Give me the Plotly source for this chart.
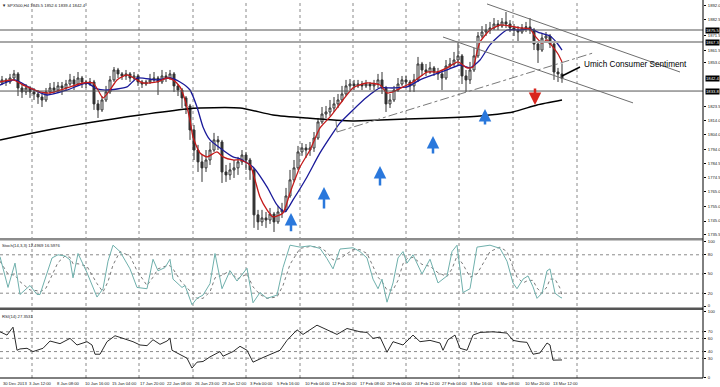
import plotly.graph_objects as go

# ---------------- price data (H4 bars, bar index 0 = first visible bar) ----------------
bar_idx = list(range(141))
opens = [1839.3, 1841.4, 1840.0, 1842.7, 1845.5, 1835.9, 1833.2, 1835.9, 1833.2, 1831.8,
         1829.7, 1827.7, 1833.2, 1835.9, 1834.5, 1837.3, 1835.9, 1838.6, 1841.4, 1838.6,
         1842.7, 1840.0, 1838.6, 1840.0, 1825.0, 1820.9, 1827.7, 1833.2, 1841.4, 1848.2,
         1845.5, 1844.1, 1845.5, 1842.7, 1844.1, 1840.0, 1838.6, 1840.0, 1841.4, 1842.7,
         1840.0, 1844.1, 1842.7, 1845.5, 1837.3, 1834.5, 1829.1, 1823.6, 1807.2, 1793.5,
         1785.4, 1781.3, 1786.7, 1793.5, 1800.4, 1799.0, 1778.5, 1776.5, 1779.9, 1781.3,
         1785.4, 1790.1, 1786.7, 1779.9, 1749.2, 1744.4, 1747.1, 1745.7, 1749.8, 1744.4,
         1751.2, 1752.6, 1762.1, 1773.1, 1781.3, 1792.2, 1794.9, 1793.5, 1794.9, 1801.7,
         1812.7, 1818.1, 1819.5, 1822.2, 1825.0, 1827.7, 1831.8, 1837.3, 1838.6, 1837.3,
         1838.6, 1837.3, 1838.6, 1837.3, 1838.6, 1841.4, 1835.9, 1825.0, 1827.7, 1834.5,
         1838.6, 1841.4, 1840.0, 1837.3, 1841.4, 1852.3, 1848.2, 1846.8, 1849.6, 1846.8,
         1845.5, 1842.7, 1850.9, 1852.3, 1855.0, 1857.8, 1844.1, 1841.4, 1848.2, 1857.8,
         1871.4, 1874.1, 1875.5, 1876.9, 1879.6, 1878.2, 1881.0, 1879.6, 1876.9, 1875.5,
         1874.1, 1876.9, 1877.6, 1875.5, 1865.9, 1861.8, 1870.0, 1871.4, 1865.9, 1846.8,
         1845.5]
highs = [1844.1, 1842.7, 1845.5, 1848.2, 1846.8, 1838.6, 1838.6, 1837.3, 1835.9, 1834.5,
         1831.8, 1835.9, 1839.3, 1840.0, 1840.0, 1840.0, 1841.4, 1845.5, 1844.1, 1846.8,
         1844.1, 1841.4, 1842.7, 1841.4, 1827.7, 1830.4, 1837.3, 1844.1, 1850.2, 1849.6,
         1846.8, 1848.2, 1846.8, 1846.8, 1845.5, 1841.4, 1841.4, 1845.5, 1846.8, 1844.1,
         1848.2, 1846.8, 1848.2, 1846.8, 1838.6, 1835.9, 1830.4, 1825.0, 1810.6, 1797.0,
         1790.1, 1793.5, 1799.0, 1805.2, 1803.1, 1800.4, 1783.3, 1784.7, 1786.7, 1788.8,
         1793.5, 1792.2, 1788.1, 1781.3, 1752.6, 1752.6, 1751.2, 1753.9, 1751.2, 1755.3,
         1757.4, 1767.6, 1779.9, 1786.7, 1796.3, 1798.3, 1797.6, 1799.0, 1805.8, 1815.4,
         1822.9, 1823.6, 1827.7, 1829.7, 1831.8, 1837.3, 1841.4, 1842.0, 1841.4, 1841.4,
         1840.7, 1841.4, 1840.0, 1841.4, 1845.5, 1846.8, 1837.3, 1831.8, 1837.3, 1842.7,
         1844.1, 1844.1, 1841.4, 1845.5, 1857.1, 1853.7, 1852.3, 1853.7, 1850.9, 1849.6,
         1848.2, 1855.0, 1856.4, 1860.5, 1866.6, 1859.1, 1848.2, 1853.7, 1863.2, 1874.1,
         1878.2, 1879.6, 1881.0, 1883.7, 1882.3, 1883.7, 1887.8, 1882.3, 1879.6, 1878.2,
         1879.6, 1881.0, 1883.7, 1876.9, 1867.3, 1873.5, 1874.1, 1872.8, 1867.3, 1849.6,
         1852.6]
lows = [1837.9, 1837.3, 1838.6, 1841.4, 1830.4, 1829.1, 1831.1, 1829.1, 1827.7, 1825.0,
        1822.9, 1826.3, 1831.8, 1831.8, 1833.2, 1831.1, 1834.5, 1837.3, 1834.5, 1837.3,
        1835.9, 1835.9, 1837.3, 1820.9, 1815.4, 1819.5, 1826.3, 1831.8, 1840.0, 1842.7,
        1841.4, 1841.4, 1840.0, 1841.4, 1837.3, 1835.9, 1837.3, 1838.6, 1840.0, 1831.1,
        1838.6, 1840.0, 1841.4, 1833.2, 1830.4, 1822.2, 1818.1, 1800.4, 1786.7, 1778.5,
        1771.7, 1778.5, 1783.3, 1792.2, 1793.5, 1771.0, 1771.7, 1773.1, 1774.4, 1776.5,
        1783.3, 1779.9, 1773.1, 1740.3, 1738.9, 1741.6, 1740.3, 1743.0, 1737.5, 1743.0,
        1747.1, 1751.2, 1760.8, 1771.7, 1779.9, 1789.5, 1788.1, 1789.5, 1792.2, 1800.4,
        1811.3, 1815.4, 1816.8, 1819.5, 1822.2, 1826.3, 1830.4, 1834.5, 1834.5, 1835.9,
        1834.5, 1835.9, 1834.5, 1834.5, 1835.9, 1831.8, 1819.5, 1822.2, 1826.3, 1833.2,
        1837.3, 1835.9, 1833.2, 1833.2, 1840.0, 1844.1, 1844.1, 1845.5, 1844.1, 1841.4,
        1834.5, 1841.4, 1849.6, 1850.9, 1850.9, 1838.6, 1833.2, 1838.6, 1846.8, 1856.4,
        1870.0, 1871.4, 1872.8, 1875.5, 1875.5, 1876.9, 1876.9, 1874.1, 1871.4, 1866.6,
        1872.8, 1874.1, 1872.8, 1861.8, 1853.0, 1860.5, 1867.3, 1863.2, 1841.4, 1840.0,
        1839.4]
closes = [1841.4, 1840.0, 1842.7, 1845.5, 1835.9, 1833.2, 1835.9, 1833.2, 1831.8, 1829.7,
          1827.7, 1833.2, 1835.9, 1834.5, 1837.3, 1835.9, 1838.6, 1841.4, 1838.6, 1842.7,
          1840.0, 1838.6, 1840.0, 1825.0, 1820.9, 1827.7, 1833.2, 1841.4, 1848.2, 1845.5,
          1844.1, 1845.5, 1842.7, 1844.1, 1840.0, 1838.6, 1840.0, 1841.4, 1842.7, 1840.0,
          1844.1, 1842.7, 1845.5, 1837.3, 1834.5, 1829.1, 1823.6, 1807.2, 1793.5, 1785.4,
          1781.3, 1786.7, 1793.5, 1800.4, 1799.0, 1778.5, 1776.5, 1779.9, 1781.3, 1785.4,
          1790.1, 1786.7, 1779.9, 1749.2, 1744.4, 1747.1, 1745.7, 1749.8, 1744.4, 1751.2,
          1752.6, 1762.1, 1773.1, 1781.3, 1792.2, 1794.9, 1793.5, 1794.9, 1801.7, 1812.7,
          1818.1, 1819.5, 1822.2, 1825.0, 1827.7, 1831.8, 1837.3, 1838.6, 1837.3, 1838.6,
          1837.3, 1838.6, 1837.3, 1838.6, 1841.4, 1835.9, 1825.0, 1827.7, 1834.5, 1838.6,
          1841.4, 1840.0, 1837.3, 1841.4, 1852.3, 1848.2, 1846.8, 1849.6, 1846.8, 1845.5,
          1842.7, 1850.9, 1852.3, 1855.0, 1857.8, 1844.1, 1841.4, 1848.2, 1857.8, 1871.4,
          1874.1, 1875.5, 1876.9, 1879.6, 1878.2, 1881.0, 1879.6, 1876.9, 1875.5, 1874.1,
          1876.9, 1877.6, 1875.5, 1865.9, 1861.8, 1870.0, 1871.4, 1865.9, 1846.8, 1845.5,
          1842.4]

# ---------------- moving averages ----------------
red_x = [-0.5, 2.75, 5.75, 9.5, 12, 16.25, 20.25, 22.75, 24, 25.25,
         27, 28.75, 31.25, 33.75, 35.25, 38.75, 41.25, 42.75, 44.5, 45.75,
         47, 47.75, 49.5, 51.25, 53.75, 55.25, 57.75, 59.5, 62, 63.25,
         64.5, 66.25, 67.75, 70.25, 72, 74.5, 77, 79.5, 82, 85.25,
         87.75, 91.25, 94.5, 96.25, 97.75, 100.25, 102.75, 106.25, 108.75, 111.25,
         114, 116.25, 117.75, 118.75, 119.5, 122, 124.5, 127, 129.5, 132,
         133.25, 135, 136.25, 137.5, 139, 140]
red_ma = [1840.0, 1841.4, 1837.3, 1833.2, 1832.5, 1835.9, 1839.3, 1839.3, 1834.5, 1829.1,
          1834.5, 1841.4, 1844.8, 1841.4, 1839.3, 1840.0, 1842.7, 1841.4, 1836.6, 1827.7,
          1814.0, 1802.4, 1791.5, 1788.8, 1792.2, 1788.8, 1786.7, 1786.7, 1783.3, 1773.1,
          1761.4, 1752.6, 1747.8, 1750.5, 1764.2, 1781.9, 1793.5, 1808.6, 1816.1, 1827.7,
          1835.9, 1839.3, 1837.9, 1832.5, 1833.2, 1836.6, 1840.0, 1846.8, 1846.8, 1849.6,
          1853.7, 1849.6, 1850.2, 1860.5, 1867.3, 1875.5, 1878.9, 1878.2, 1876.9, 1876.2,
          1871.4, 1866.6, 1868.7, 1864.6, 1859.1, 1853.7]
blue_x = [-0.5, 3.25, 7, 11.25, 16.25, 21.25, 23.75, 26.25, 31.25, 33.75,
          38.75, 42, 44.5, 47, 48.75, 50.25, 52, 54.5, 57.75, 59.5,
          62.75, 66.25, 68.75, 70.75, 72.75, 76.25, 79.5, 82.75, 84.5, 87.75,
          91.25, 94.5, 97.75, 101.25, 104.5, 107.75, 111.25, 114.5, 117, 119.5,
          122, 124.5, 126.25, 129.5, 132, 134.5, 137, 138.75, 140]
blue_ma = [1837.9, 1841.4, 1835.9, 1831.1, 1834.5, 1839.3, 1835.2, 1834.5, 1836.6, 1842.7,
           1841.4, 1842.7, 1840.0, 1834.5, 1822.9, 1809.3, 1800.4, 1794.9, 1788.8, 1787.4,
           1781.9, 1768.3, 1756.0, 1751.2, 1759.4, 1775.1, 1791.5, 1805.2, 1812.0, 1820.9,
           1829.7, 1835.9, 1835.9, 1836.6, 1841.4, 1844.8, 1848.2, 1851.6, 1849.6, 1855.0,
           1865.3, 1872.1, 1875.5, 1875.5, 1876.2, 1873.5, 1871.4, 1866.6, 1861.8]
black_x = [-0.5, 7.75, 12.75, 21.25, 27.75, 34.5, 46.25, 49.5, 59.5, 67.75,
           76.25, 87.75, 94.5, 101.25, 109.5, 119.5, 127.75, 133.75, 140]
black_ma = [1800.4, 1805.2, 1807.9, 1812.0, 1814.7, 1817.5, 1821.6, 1822.2, 1822.2, 1817.5,
            1815.4, 1813.4, 1814.0, 1814.7, 1815.4, 1816.8, 1819.5, 1824.3, 1827.7]

# ---------------- Stochastic (14,3,3) ----------------
stoch_x = [-0.5, 1.5, 3.25, 4.5, 7, 8.75, 9.5, 11, 12.5, 14,
           15.75, 17, 17.75, 19, 21.25, 23.75, 25.25, 26.5, 27.75, 29.5,
           32, 33.75, 36.25, 37.75, 39, 40.75, 42, 42.75, 45, 45.75,
           47.5, 48.75, 50.25, 52, 53.25, 55, 57, 58.75, 61.25, 62.75,
           64.5, 66.25, 68.75, 70.25, 72, 74.5, 77, 79.5, 81.25, 82.75,
           84.5, 87.75, 89.5, 91.25, 92.75, 94, 95, 96.25, 97.75, 99,
           100.25, 101.25, 102.75, 105, 107, 109, 111.25, 112.5, 113.75, 115.25,
           117, 118.75, 122, 124.5, 126.25, 127.75, 128.75, 130.25, 131.5, 132.75,
           133.75, 135, 136.25, 137, 138.25, 139.5, 140]
stoch_main = [77, 29, 67, 18, 32, 18, 18, 45, 75, 80,
              78, 72, 44, 82, 52, 14, 27, 70, 95, 85,
              58, 29, 27, 73, 55, 60, 73, 42, 29, 32,
              2, 12, 17, 35, 82, 27, 55, 39, 59, 5,
              21, 12, 17, 60, 95, 92, 94, 90, 74, 58,
              89, 91, 85, 75, 42, 27, 42, 6, 36, 75,
              85, 67, 80, 50, 73, 36, 47, 85, 95, 21,
              27, 92, 95, 90, 70, 36, 27, 42, 47, 30,
              12, 20, 55, 58, 20, 14, 12.4969]
stoch_signal = [70, 50, 48, 38, 25, 24, 22, 28, 48, 68,
                78, 76, 66, 66, 62, 35, 22, 38, 64, 85,
                78, 55, 32, 45, 58, 62, 63, 58, 36, 32,
                20, 12, 12, 22, 44, 48, 55, 42, 50, 30,
                18, 12, 14, 32, 65, 90, 93, 92, 84, 72,
                74, 88, 88, 82, 62, 45, 38, 25, 25, 40,
                66, 74, 76, 65, 62, 52, 46, 58, 78, 65,
                45, 50, 85, 92, 85, 62, 45, 36, 40, 40,
                28, 20, 30, 42, 42, 28, 16.5976]

# ---------------- RSI(14) ----------------
rsi_x = [-0.5, 1.25, 2.75, 3.75, 4.5, 6.25, 7.75, 10.25, 12, 14.5,
         17, 18.75, 21.25, 22.5, 23.25, 24.5, 26.25, 28.25, 30.25, 32.75,
         34.5, 36.25, 37.75, 39.5, 41.25, 42, 42.5, 44.5, 46.25, 47.5,
         48.75, 50.25, 52, 54.5, 55.25, 57.75, 59.5, 61.25, 62.75, 65.25,
         67.75, 69.5, 71.25, 73.75, 75.25, 78.75, 81.25, 83.75, 86.25, 89.5,
         91.25, 92.75, 94.5, 96.25, 97.75, 100.25, 102.75, 104.5, 107, 109.5,
         110.25, 111.5, 113.25, 114.5, 116.25, 117.75, 119.5, 122.75, 126.25, 127.75,
         129.5, 131.25, 132.75, 134.5, 136.25, 137, 137.75, 139.5, 140]
rsi_vals = [70, 65, 77, 42, 44, 45, 40, 45, 56, 52,
            60, 50, 55, 50, 36, 36, 55, 64, 60, 55,
            50, 49, 58, 51, 56, 60, 42, 35, 30, 15,
            24, 25, 32, 40, 33, 40, 48, 42, 24, 31,
            38, 42, 57, 73, 66, 80, 73, 66, 75, 70,
            69, 60, 62, 39, 55, 50, 65, 55, 57, 53,
            42, 58, 65, 45, 42, 65, 69, 70, 68, 57,
            55, 54, 36, 38, 53, 50, 27, 27.4, 27.3531]

# ---------------- axis labels ----------------
time_labels = ["30 Dec 2013", "3 Jan 12:00", "8 Jan 08:00", "10 Jan 16:00", "15 Jan 04:00",
               "17 Jan 20:00", "22 Jan 08:00", "26 Jan 23:00", "29 Jan 12:00", "3 Feb 00:00",
               "5 Feb 16:00", "10 Feb 04:00", "12 Feb 20:00", "17 Feb 08:00", "20 Feb 00:00",
               "24 Feb 12:00", "27 Feb 04:00", "3 Mar 16:00", "6 Mar 08:00", "10 Mar 20:00",
               "13 Mar 12:00"]
time_label_pos = [-0.25, 6.25, 13.25, 20.25, 27, 34, 40.75, 47.75, 54.5, 61.5,
                  68.25, 75.25, 82, 89, 95.75, 102.75, 109.5, 116.5, 123.25, 130.25, 137.25]
grid_pos = [7.5, 21, 34.25, 47.75, 61, 74.5, 87.75, 101, 114.25, 127.75, 143.75]
price_ticks = [1892.0, 1882.5, 1871.5, 1861.5, 1853.0, 1823.5, 1814.0, 1804.0, 1794.0,
               1784.5, 1774.5, 1765.0, 1755.0, 1745.0, 1735.5]
stoch_ticks = [0, 20, 50, 80, 100]
stoch_levels = [20, 50, 80]
rsi_ticks = [0, 30, 40, 60, 70, 100]
rsi_levels = [30, 40, 60, 70]

# horizontal levels drawn on the chart
level_dark = [1875.5, 1833.8]
level_light = [1867.3]

# drawing objects: (bar, price) pairs
channel_upper = [(121.25, 1893.3), (169.5, 1846.8)]
channel_lower = [(110.25, 1870.7), (157.75, 1825.7)]
support_line = [(83.75, 1805.8), (147.75, 1859.8)]
support_tick = [(83.5, 1813.4), (83.75, 1805.8)]
note_text = "Umich Consumer Sentiment"
note_pos = (145, 1851.6)
note_leader = [(140, 1844.1), (144.5, 1850.2)]
up_arrows = [(72.25, 1750.5, 1736.9), (80.5, 1768.3, 1752.6), (94.5, 1782.6, 1768.3),
             (107.75, 1803.1, 1790.1), (120.75, 1821.6, 1809.9)]
down_arrows = [(133.25, 1824.3, 1836.6)]

header_price = "SPX500,H4 1845.5 1852.6 1839.4 1842.4"
header_stoch = "Stoch(14,3,3) 12.4969 16.5976"
header_rsi = "RSI(14) 27.3531"

FONT = "Liberation Sans"
XR = [-0.5, 175.25]

fig = go.Figure()
fig.add_trace(go.Candlestick(
    x=bar_idx, open=opens, high=highs, low=lows, close=closes,
    increasing=dict(line=dict(color="#333333", width=1), fillcolor="#ffffff"),
    decreasing=dict(line=dict(color="#333333", width=1), fillcolor="#333333"),
    whiskerwidth=0, xaxis="x", yaxis="y", showlegend=False, hoverinfo="skip"))
fig.add_trace(go.Scatter(x=black_x, y=black_ma, mode="lines", xaxis="x", yaxis="y",
                         line=dict(color="#000000", width=1.5, shape="spline", smoothing=0.6),
                         showlegend=False, hoverinfo="skip"))
fig.add_trace(go.Scatter(x=blue_x, y=blue_ma, mode="lines", xaxis="x", yaxis="y",
                         line=dict(color="#1a1a9a", width=1.3, shape="spline", smoothing=0.6),
                         showlegend=False, hoverinfo="skip"))
fig.add_trace(go.Scatter(x=red_x, y=red_ma, mode="lines", xaxis="x", yaxis="y",
                         line=dict(color="#c41a1a", width=1.3, shape="spline", smoothing=0.6),
                         showlegend=False, hoverinfo="skip"))
fig.add_trace(go.Scatter(x=stoch_x, y=stoch_signal, mode="lines", xaxis="x2", yaxis="y2",
                         line=dict(color="#7a7a7a", width=1, dash="dot"),
                         showlegend=False, hoverinfo="skip"))
fig.add_trace(go.Scatter(x=stoch_x, y=stoch_main, mode="lines", xaxis="x2", yaxis="y2",
                         line=dict(color="#6fb0ac", width=1),
                         showlegend=False, hoverinfo="skip"))
fig.add_trace(go.Scatter(x=rsi_x, y=rsi_vals, mode="lines", xaxis="x3", yaxis="y3",
                         line=dict(color="#2a2a2a", width=1),
                         showlegend=False, hoverinfo="skip"))

shapes = []
for g in grid_pos:
    shapes.append(dict(type="line", xref="x", yref="paper", x0=g, x1=g, y0=0, y1=1,
                       line=dict(color="#8a8a8a", width=1, dash="dot"), layer="below"))
for lv in stoch_levels:
    shapes.append(dict(type="line", xref="x2 domain", yref="y2", x0=0, x1=1, y0=lv, y1=lv,
                       line=dict(color="#8a8a8a", width=1, dash="dot"), layer="below"))
for lv in rsi_levels:
    shapes.append(dict(type="line", xref="x3 domain", yref="y3", x0=0, x1=1, y0=lv, y1=lv,
                       line=dict(color="#8a8a8a", width=1, dash="dot"), layer="below"))
for lv in level_dark:
    shapes.append(dict(type="line", xref="x domain", yref="y", x0=0, x1=1, y0=lv, y1=lv,
                       line=dict(color="#555555", width=1)))
for lv in level_light:
    shapes.append(dict(type="line", xref="x domain", yref="y", x0=0, x1=1, y0=lv, y1=lv,
                       line=dict(color="#a8a8a8", width=2)))
for seg, col, dash in [(channel_upper, "#6e6e6e", "solid"), (channel_lower, "#6e6e6e", "solid"),
                       (support_line, "#7a7a7a", "dashdot"), (support_tick, "#7a7a7a", "solid")]:
    shapes.append(dict(type="line", xref="x", yref="y", x0=seg[0][0], y0=seg[0][1],
                       x1=seg[1][0], y1=seg[1][1], line=dict(color=col, width=1, dash=dash)))
shapes.append(dict(type="line", xref="x", yref="y", x0=note_leader[0][0], y0=note_leader[0][1],
                   x1=note_leader[1][0], y1=note_leader[1][1], line=dict(color="#000000", width=1.5)))
shapes.append(dict(type="rect", xref="paper", yref="paper", x0=0, x1=1, y0=0.3638, y1=0.3704,
                   fillcolor="#8c8c8c", line=dict(width=0)))
shapes.append(dict(type="rect", xref="paper", yref="paper", x0=0, x1=1, y0=0.1799, y1=0.1865,
                   fillcolor="#555555", line=dict(width=0)))
shapes.append(dict(type="line", xref="paper", yref="paper", x0=1, x1=1, y0=0, y1=1,
                   line=dict(color="#000000", width=1)))
shapes.append(dict(type="line", xref="paper", yref="paper", x0=0, x1=1, y0=0, y1=0,
                   line=dict(color="#000000", width=1)))

ann = []
small = dict(family=FONT, size=4.2, color="#222222")
for txt, pos in zip(time_labels, time_label_pos):
    ann.append(dict(text=txt, x=pos, xref="x3", y=0, yref="paper", xanchor="left", yanchor="top",
                    yshift=-1, showarrow=False, font=small))
for lv in level_dark + level_light + [closes[-1]]:
    ann.append(dict(text="%.1f" % lv, x=1, xref="paper", y=lv, yref="y", xanchor="left",
                    xshift=2, yanchor="middle", showarrow=False, bgcolor="#000000",
                    borderpad=0, font=dict(family=FONT, size=4.2, color="#ffffff")))
ann.append(dict(text="\u25bc " + header_price, x=0, xref="paper", y=1, yref="paper",
                xanchor="left", yanchor="top", yshift=-1, showarrow=False, font=small))
ann.append(dict(text=header_stoch, x=0, xref="paper", y=0.365, yref="paper",
                xanchor="left", yanchor="top", yshift=-1, showarrow=False, font=small))
ann.append(dict(text=header_rsi, x=0, xref="paper", y=0.18, yref="paper",
                xanchor="left", yanchor="top", yshift=-2, showarrow=False, font=small))
ann.append(dict(text=note_text, x=note_pos[0], y=note_pos[1], xref="x", yref="y",
                xanchor="left", yanchor="middle", showarrow=False,
                font=dict(family="Liberation Sans", size=8.2, color="#000000")))
for bx, tip, tail in up_arrows:
    ann.append(dict(text="", x=bx, y=tip, ax=bx, ay=tail, xref="x", yref="y", axref="x", ayref="y",
                    showarrow=True, arrowhead=2, arrowsize=1, arrowwidth=2.5, arrowcolor="#2a78dc"))
for bx, tip, tail in down_arrows:
    ann.append(dict(text="", x=bx, y=tip, ax=bx, ay=tail, xref="x", yref="y", axref="x", ayref="y",
                    showarrow=True, arrowhead=2, arrowsize=1, arrowwidth=2.5, arrowcolor="#d8261e"))

axis_common = dict(showgrid=False, zeroline=False, showline=False, automargin=False)
ytick_common = dict(ticks="outside", ticklen=2, tickcolor="#000000", tickfont=small,
                    ticklabelstandoff=1)
fig.update_layout(
    width=720, height=387,
    margin=dict(l=0, r=17, t=0, b=9),
    paper_bgcolor="#ffffff", plot_bgcolor="#ffffff",
    showlegend=False,
    xaxis=dict(range=XR, domain=[0, 1], anchor="y", showticklabels=False, ticks="",
               rangeslider=dict(visible=False), **axis_common),
    xaxis2=dict(range=XR, domain=[0, 1], anchor="y2", matches="x", showticklabels=False, ticks="",
                **axis_common),
    xaxis3=dict(range=XR, domain=[0, 1], anchor="y3", matches="x", showticklabels=False, ticks="",
                **axis_common),
    yaxis=dict(domain=[0.3704, 1], range=[1733.4, 1896.0], side="right", anchor="x",
               tickvals=price_ticks, tickformat=".1f", **ytick_common, **axis_common),
    yaxis2=dict(domain=[0.1878, 0.3651], range=[-1.56, 103.1], side="right", anchor="x2",
                tickvals=stoch_ticks, **ytick_common, **axis_common),
    yaxis3=dict(domain=[0, 0.1799], range=[0, 103], side="right", anchor="x3",
                tickvals=rsi_ticks, **ytick_common, **axis_common),
    shapes=shapes, annotations=ann,
)
fig.write_html("out.html", config={"displayModeBar": False},
               post_script="document.body.style.margin='0px';document.body.style.overflow='hidden';")
